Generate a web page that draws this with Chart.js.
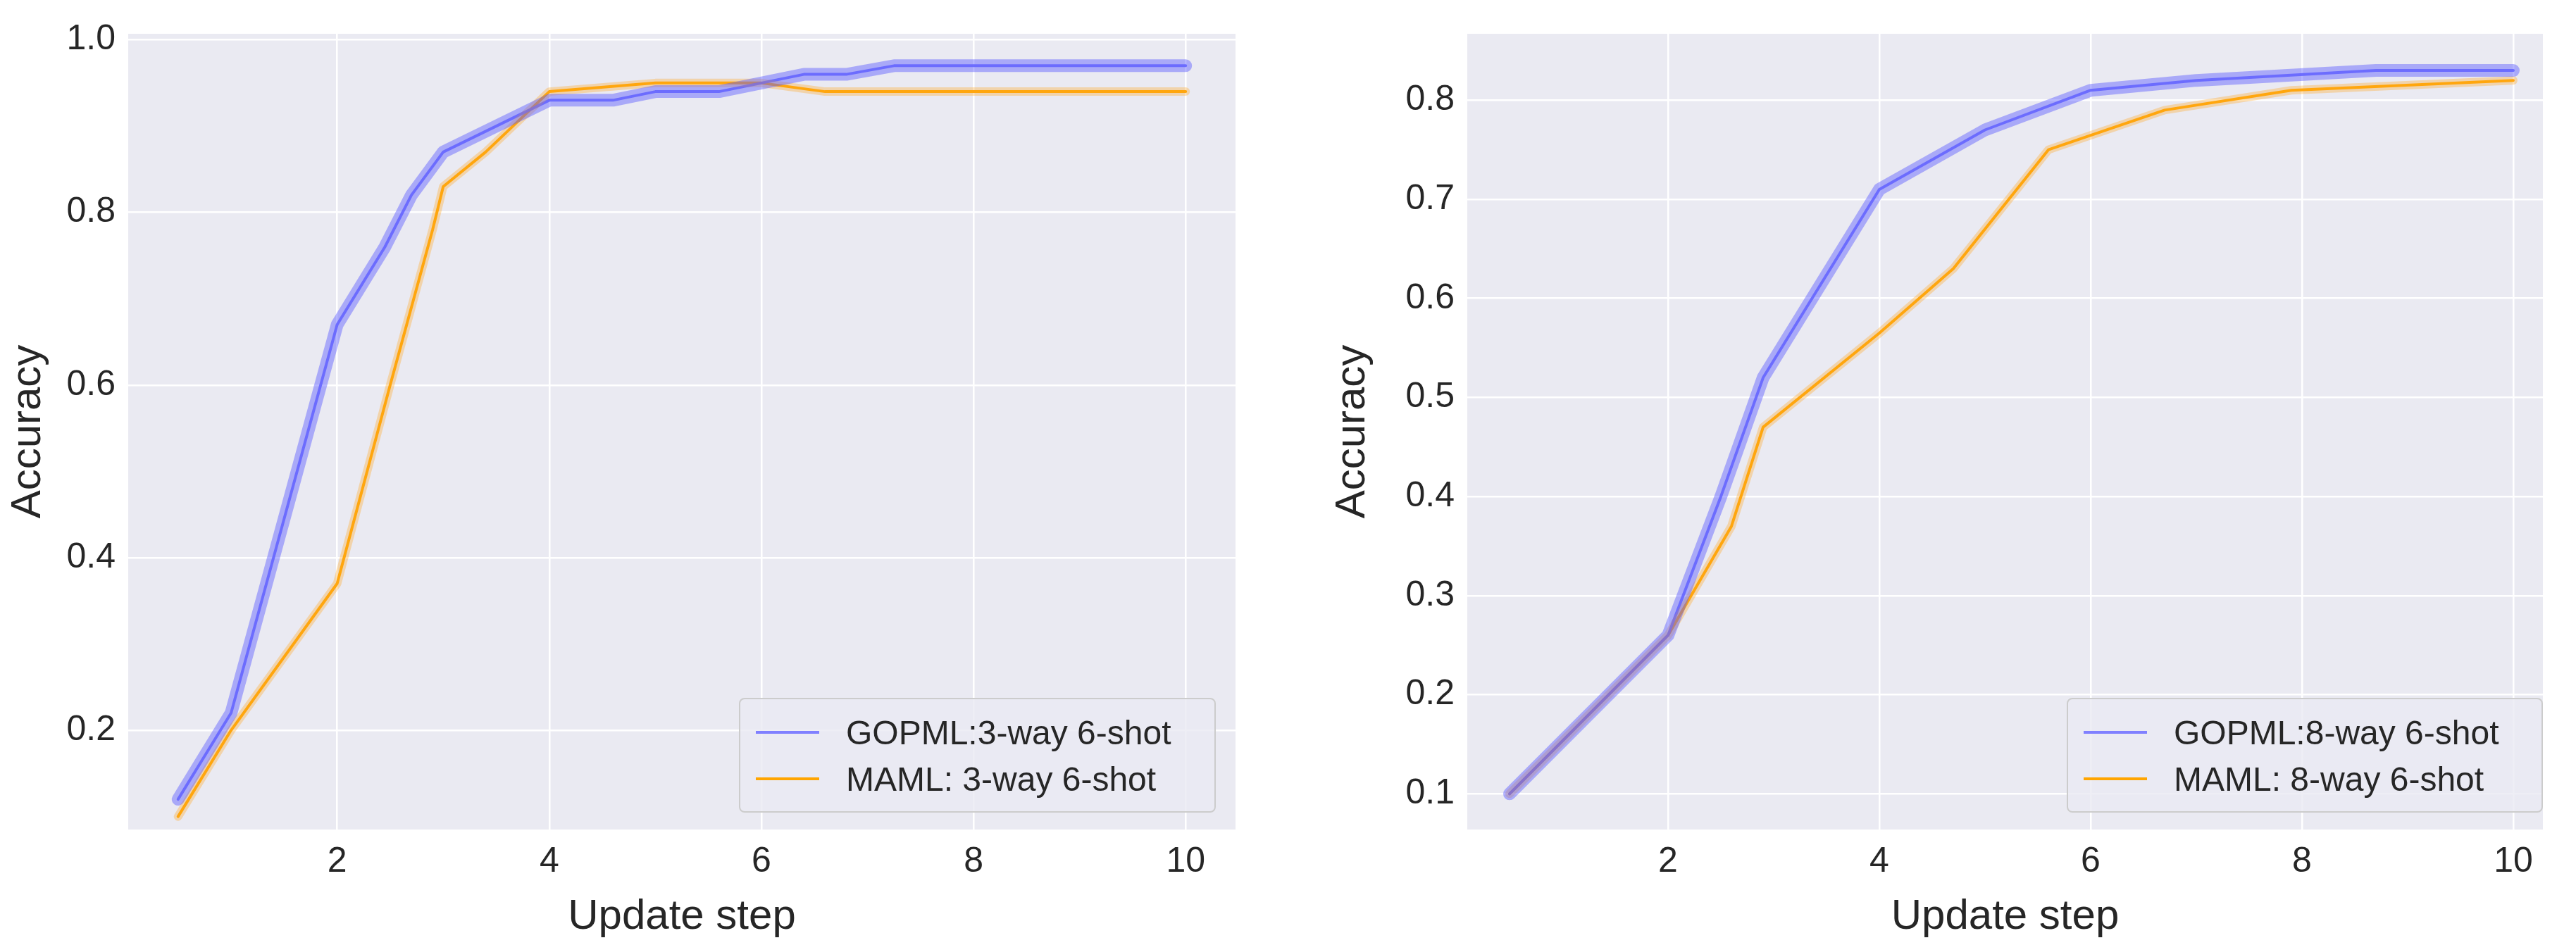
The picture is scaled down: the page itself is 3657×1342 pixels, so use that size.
<!DOCTYPE html>
<html><head><meta charset="utf-8">
<script src="https://cdn.jsdelivr.net/npm/chart.js@4"></script>
<style>
body{margin:0;background:#fff;width:3657px;height:1342px;position:relative;overflow:hidden;font-family:"Liberation Sans",Arial,sans-serif}
.c{position:absolute;top:0;height:1342px}
.leg{position:absolute;border:2px solid #ccc;border-radius:8px;background:rgba(234,234,242,0.8);font-size:48px;color:#262626;padding:14px 22px;box-sizing:border-box}
.leg div{display:flex;align-items:center;height:66px}
.leg span{display:inline-block;width:90px;height:4px;margin-right:38px}
</style></head><body>
<div class="c" style="left:0;width:1800px"><canvas id="a"></canvas></div>
<div class="c" style="left:1880px;width:1777px"><canvas id="b"></canvas></div>
<div class="leg" style="left:1049px;top:991px;width:677px;height:163px"><div><span style="background:#8080ff"></span>GOPML:3-way 6-shot</div><div><span style="background:#ffa500"></span>MAML: 3-way 6-shot</div></div>
<div class="leg" style="left:2934px;top:991px;width:676px;height:163px"><div><span style="background:#8080ff"></span>GOPML:8-way 6-shot</div><div><span style="background:#ffa500"></span>MAML: 8-way 6-shot</div></div>
<script>
const gopml3X=[0.5,0.75,1,2,2.45,2.7,3,3.5,4,4.6,5,5.6,6,6.4,6.8,7.25,10];
const gopml3Y=[0.12,0.17,0.22,0.67,0.76,0.82,0.87,0.90,0.93,0.93,0.94,0.94,0.95,0.96,0.96,0.97,0.97];
const maml3X=[0.5,1,2,2.5,2.9,3,3.4,4,5,6,6.6,10];
const maml3Y=[0.10,0.20,0.37,0.60,0.78,0.83,0.87,0.94,0.95,0.95,0.94,0.94];
const gopml8X=[0.5,2,2.5,2.9,4,5,6,7,8.7,10];
const gopml8Y=[0.10,0.26,0.40,0.52,0.71,0.77,0.81,0.82,0.83,0.83];
const maml8X=[0.5,2,2.6,2.9,4,4.7,5.6,6.7,7.9,10];
const maml8Y=[0.10,0.26,0.37,0.47,0.565,0.63,0.75,0.79,0.81,0.82];
const xTicks=[2,4,6,8,10];
const zip=(x,y)=>x.map((v,i)=>({x:v,y:y[i]}));
const bg={id:'bg',beforeDraw(c){const a=c.chartArea,g=c.ctx;g.save();g.fillStyle='#EAEAF2';g.fillRect(a.left,a.top,a.width,a.height);g.restore();}};
function mk(id,gx,gy,mx,my,xmin,xmax,ymin,ymax,ystep,yw,pr){
 const ds=(d,col,w)=>({data:d,borderColor:col,borderWidth:w,pointRadius:0,tension:0,borderCapStyle:'round',borderJoinStyle:'round'});
 new Chart(document.getElementById(id),{type:'line',plugins:[bg],
 data:{datasets:[ds(zip(gx,gy),'rgba(90,90,255,0.45)',18),ds(zip(mx,my),'rgba(255,170,40,0.35)',12),
   ds(zip(gx,gy),'rgba(110,110,255,0.9)',4),ds(zip(mx,my),'#ffa500',4)]},
 options:{responsive:true,maintainAspectRatio:false,animation:false,
  layout:{padding:{top:35,right:pr,left:0,bottom:0}},
  plugins:{legend:{display:false},tooltip:{enabled:false}},
  scales:{
   x:{type:'linear',min:xmin,max:xmax,afterBuildTicks(s){s.ticks=xTicks.map(v=>({value:v}));},
     afterFit(s){s.height=164;},grid:{color:'#fff',lineWidth:2.5,drawTicks:false},border:{display:false},
     ticks:{font:{size:50,family:'Liberation Sans'},color:'#262626',padding:16},
     title:{display:true,text:'Update step',font:{size:60,family:'Liberation Sans'},color:'#262626',padding:{top:0}}},
   y:{min:ymin,max:ymax,afterBuildTicks(s){const t=[];for(let v=ystep[0];v<=ystep[1]+1e-9;v+=ystep[2])t.push({value:+v.toFixed(2)});s.ticks=t;},
     afterFit(s){s.width=yw;},grid:{color:'#fff',lineWidth:2.5,drawTicks:false},border:{display:false},
     ticks:{font:{size:50,family:'Liberation Sans'},color:'#262626',padding:18,callback:v=>v.toFixed(1)},
     title:{display:true,text:'Accuracy',font:{size:60,family:'Liberation Sans'},color:'#262626',padding:{bottom:4}}}}}});
}
mk('a',gopml3X,gopml3Y,maml3X,maml3Y,0.03,10.47,0.085,1.007,[0.2,1.0,0.2],182,46);
mk('b',gopml8X,gopml8Y,maml8X,maml8Y,0.1,10.28,0.064,0.867,[0.1,0.8,0.1],203,47);
</script></body></html>
